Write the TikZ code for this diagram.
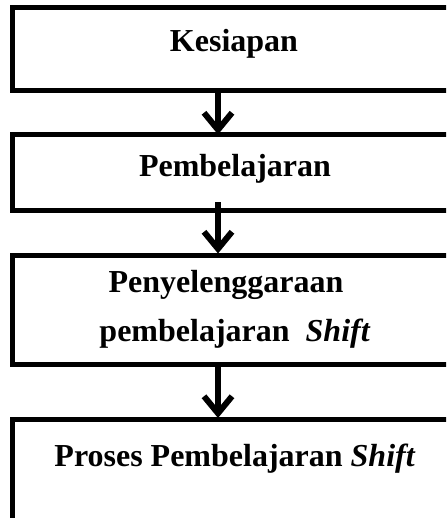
\documentclass[tikz,border=0pt]{standalone}
\usepackage{fontspec}
\setmainfont{Liberation Serif}
\usepackage{tikz}
\usetikzlibrary{arrows.meta}

\tikzset{
  stagebox/.style={draw, line width=5pt, rectangle, minimum width=444pt, inner sep=0pt},
  stagetext/.style={anchor=base, font=\fontsize{32}{48}\selectfont\bfseries, inner sep=0pt},
  flowarrow/.style={line width=6pt, -{Straight Barb[length=17pt, width=28pt, line width=6pt]}}
}

\begin{document}
\begin{tikzpicture}[x=1pt, y=-1pt]
	\useasboundingbox (0,0) rectangle (446,518);
	\clip (0,0) rectangle (446,518);
	\coordinate (ax) at (218,0);

	\node[stagebox, minimum height=83pt] (kes) at (234,49.5) {};
	\node[stagebox, minimum height=76pt] (bel) at (234.5,173) {};
	\node[stagebox, minimum height=109.5pt] (pen) at (234.5,309.75) {};
	\node[stagebox, minimum height=130pt] (pro) at (234.5,484.5) {};

	\node[stagetext] (kesT) at (234,52) {Kesiapan};
	\node[stagetext] (belT) at (235,177) {Pembelajaran};
	\node[stagetext] (penA) at (226,292) {Penyelenggaraan};
	\node[stagetext] (penB) at (235,341) {pembelajaran\ \ \textit{Shift}};
	\node[stagetext] (proT) at (235,466) {Proses Pembelajaran \textit{Shift}};

	\draw[flowarrow] (kes.south -| ax) -- ([yshift=-2pt]bel.north -| ax);
	\draw[flowarrow] ([yshift=11pt]bel.south -| ax) -- ([yshift=-1pt]pen.north -| ax);
	\draw[flowarrow] (pen.south -| ax) -- ([yshift=-1pt]pro.north -| ax);
\end{tikzpicture}
\end{document}
